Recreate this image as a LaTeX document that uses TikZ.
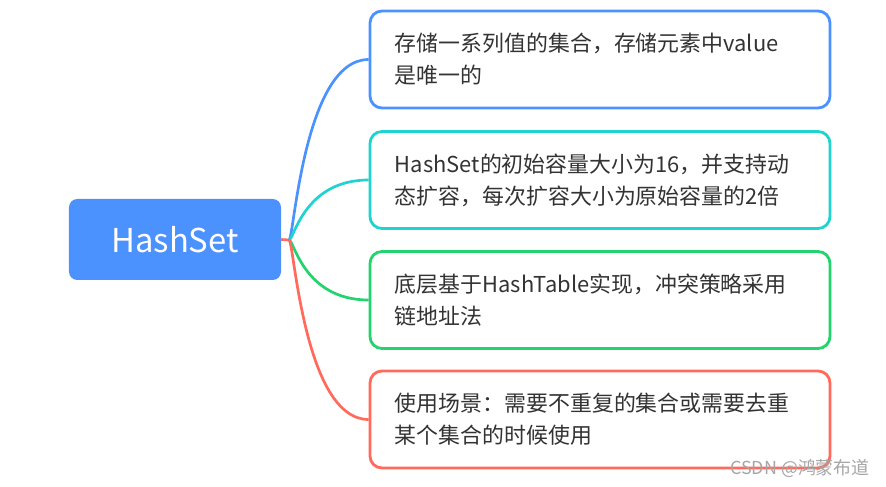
\documentclass[tikz,border=0pt]{standalone}
\usepackage{fontspec}
\setmainfont{Noto Sans CJK SC}
\usetikzlibrary{calc}
\definecolor{rootblue}{HTML}{4C92FF}
\definecolor{lineblue}{HTML}{4C92FF}
\definecolor{linecyan}{HTML}{1FD3D0}
\definecolor{linegreen}{HTML}{22D36E}
\definecolor{linered}{HTML}{FF6A5C}
\definecolor{textgray}{HTML}{333333}

\begin{document}
\begin{tikzpicture}[x=0.03cm, y=-0.03cm,
    rootbox/.style={fill=rootblue, rounded corners=0.25cm, minimum width=6.36cm, minimum height=2.43cm, text=white, font=\fontsize{28pt}{34pt}\selectfont},
    leaf/.style={draw, line width=2.4pt, rounded corners=0.36cm, fill=white, minimum width=13.8cm, minimum height=2.91cm, text width=12.3cm, inner xsep=0.75cm, align=left, text=textgray, font=\fontsize{18.7pt}{27.2pt}\selectfont},
    link/.style={line width=2.3pt}]
    \useasboundingbox (0,0) rectangle (886,487);
    \node[rootbox] (root) at (175,239.5) {HashSet};
    \node[leaf, draw=lineblue] (b1) at (600,59.5) {存储一系列值的集合，存储元素中value\\是唯一的};
    \node[leaf, draw=linecyan] (b2) at (600,180) {HashSet的初始容量大小为16，并支持动\\态扩容，每次扩容大小为原始容量的2倍};
    \node[leaf, draw=linegreen] (b3) at (600,300) {底层基于HashTable实现，冲突策略采用\\链地址法};
    \node[leaf, draw=linered] (b4) at (600,419.5) {使用场景：需要不重复的集合或需要去重\\某个集合的时候使用};
    \coordinate (hub) at (289,240);
    \draw[link, linered] (root.east) -- (hub);
    \draw[link, lineblue] (hub) .. controls ($(hub)+(5,0)$) and ($(b1.west)+(-65,0)$) .. (b1.west);
    \draw[link, linecyan] (hub) .. controls ($(hub)+(5,0)$) and ($(b2.west)+(-65,0)$) .. (b2.west);
    \draw[link, linegreen] (hub) .. controls ($(hub)+(5,0)$) and ($(b3.west)+(-65,0)$) .. (b3.west);
    \draw[link, linered] (hub) .. controls ($(hub)+(5,0)$) and ($(b4.west)+(-65,0)$) .. (b4.west);
    \node[anchor=east, inner sep=0, text=gray!70, font=\fontsize{15.3pt}{17pt}\selectfont] (mark) at (870,468) {CSDN @鸿蒙布道};
\end{tikzpicture}
\end{document}
